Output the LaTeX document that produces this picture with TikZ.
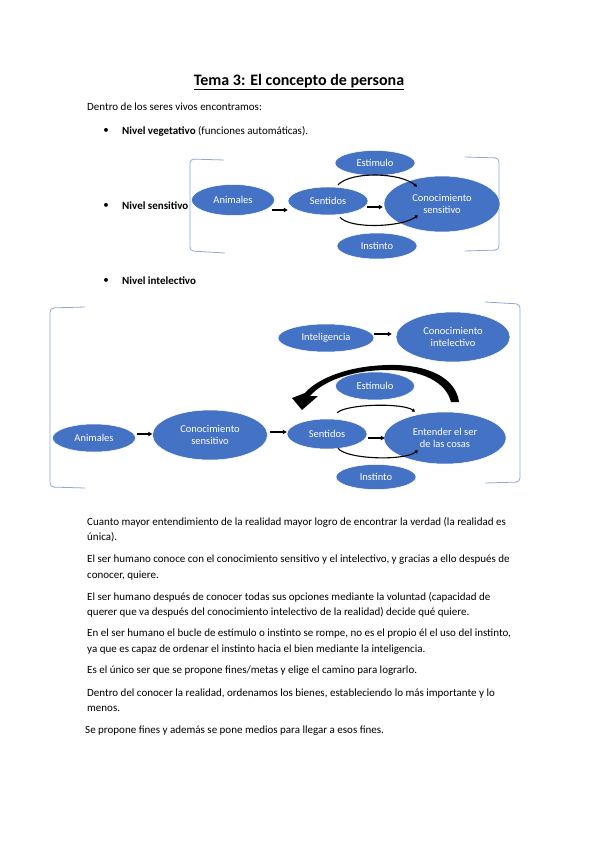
\documentclass[tikz,border=0pt]{standalone}
\usepackage{fontspec}
\setmainfont{Carlito}
\usetikzlibrary{shapes.geometric,arrows.meta}
\definecolor{ellblue}{HTML}{4472C4}
\definecolor{brk}{HTML}{8FA8D6}
\tikzset{
  ell/.style={ellipse,fill=ellblue,draw=white,line width=0.5pt,inner sep=0pt,text=white,font=\fontsize{10.5}{12.5}\selectfont,align=center},
  arr/.style={draw=black,line width=1.1pt,-{Triangle[length=4pt,width=4.5pt]}},
  lp/.style={draw=black,line width=1.1pt,-{Triangle[length=3pt,width=3.5pt]}},
  brack/.style={draw=brk,line width=0.8pt,rounded corners=4pt},
  body/.style={anchor=west,inner sep=0pt,font=\fontsize{11}{13}\selectfont},
  bul/.style={anchor=center,inner sep=0pt,font=\fontsize{11}{13}\selectfont}
}
\begin{document}
\begin{tikzpicture}[x=1pt,y=-1pt]
\useasboundingbox[fill=white] (0,0) rectangle (599,848);
% title
\node[inner sep=0pt,font=\fontsize{16}{18}\selectfont\bfseries] (title) at (299,82) {\underline{Tema 3: El concepto de persona}};
\node[body] (intro) at (87,107) {Dentro de los seres vivos encontramos:};
\node[bul] (b1) at (106,131) {•};
\node[body] (veg) at (122,131) {\textbf{Nivel vegetativo} (funciones automáticas).};
\node[bul] (b2) at (106,206) {•};
\node[body] (sens) at (122,206) {\textbf{Nivel sensitivo}};
\node[bul] (b3) at (106,281) {•};
\node[body] (intel0) at (122,281) {\textbf{Nivel intelectivo}};

% brackets diagram 1
\draw[brack] (224,160) -- (190,159) -- (190,251) -- (225,253);
\draw[brack] (465,157) -- (499,158) -- (499,250) -- (465,251);

% diagram 1
\node[ell,minimum width=83,minimum height=31] (anim1) at (233,200) {Animales};
\node[ell,minimum width=80,minimum height=28] (sent1) at (328,201) {Sentidos};
\node[ell,minimum width=80,minimum height=25] (est1) at (375,163) {Estímulo};
\node[ell,minimum width=80,minimum height=26] (inst1) at (377,246) {Instinto};
\node[ell,minimum width=116,minimum height=56] (cs1) at (442,204) {Conocimiento\\sensitivo};
\draw[arr] ([xshift=-3pt,yshift=-10pt]anim1.east) -- ([yshift=-9pt]sent1.west);
\draw[arr] ([xshift=-1pt,yshift=-6pt]sent1.east) -- ([xshift=-1pt,yshift=-3pt]cs1.west);
\draw[lp] ([xshift=10pt,yshift=2pt]sent1.north) .. controls +(14,-14) and +(-16,-14) .. ([xshift=-25pt,yshift=-11pt]cs1.north);
\draw[lp] ([xshift=12pt,yshift=-2pt]sent1.south) .. controls +(10,12) and +(-16,12) .. ([xshift=-24pt,yshift=17pt]cs1.south);

% brackets diagram 2
\draw[brack] (85,307) -- (50,308) -- (50,487) -- (85,488);
\draw[brack] (485,302) -- (520,304) -- (520,482) -- (485,483);

% diagram 2
\node[ell,minimum width=96,minimum height=28] (intel) at (326,338) {Inteligencia};
\node[ell,minimum width=114,minimum height=50] (ci) at (453,337) {Conocimiento\\intelectivo};
\node[ell,minimum width=79,minimum height=28] (est2) at (375,386) {Estímulo};
\node[ell,minimum width=83,minimum height=28] (anim2) at (94,438) {Animales};
\node[ell,minimum width=115,minimum height=50] (cs2) at (210,435) {Conocimiento\\sensitivo};
\node[ell,minimum width=80,minimum height=30] (sent2) at (327,434) {Sentidos};
\node[ell,minimum width=80,minimum height=25] (inst2) at (376,477) {Instinto};
\node[ell,minimum width=122,minimum height=52] (ent) at (445,438) {Entender el ser\\de las cosas};
\draw[arr] ([yshift=4pt]intel.east) -- ([xshift=-4pt,yshift=3pt]ci.west);
\draw[arr] ([xshift=1pt,yshift=4pt]anim2.east) -- ([yshift=1pt]cs2.west);
\draw[arr] ([xshift=2pt,yshift=3pt]cs2.east) -- ([yshift=2pt]sent2.west);
\draw[arr] ([xshift=1pt,yshift=-4pt]sent2.east) -- ([xshift=1pt]ent.west);
\draw[lp] ([xshift=10pt,yshift=6pt]sent2.north) .. controls +(10,-9) and +(-12,-9) .. ([xshift=-30pt]ent.north);
\draw[lp] ([xshift=11pt,yshift=1pt]sent2.south) .. controls +(8,11) and +(-14,11) .. ([xshift=-27pt,yshift=14pt]ent.south);
% big curved arrow
\fill[black] (459,402) .. controls (456,378) and (428,364) .. (388,365)
  .. controls (345,366) and (316,380) .. (305,393)
  -- (292,398) -- (302,410) -- (318,396) -- (310,396)
  .. controls (322,382) and (350,370) .. (388,370)
  .. controls (422,370) and (446,382) .. (451,402) -- cycle;

% body text
\node[body] (t1) at (87,522) {Cuanto mayor entendimiento de la realidad mayor logro de encontrar la verdad (la realidad es};
\node[body] (t2) at (87,537) {única).};
\node[body] (t3) at (87,560) {El ser humano conoce con el conocimiento sensitivo y el intelectivo, y gracias a ello después de};
\node[body] (t4) at (87,576) {conocer, quiere.};
\node[body] (t5) at (87,597) {El ser humano después de conocer todas sus opciones mediante la voluntad (capacidad de};
\node[body] (t6) at (87,612) {querer que va después del conocimiento intelectivo de la realidad) decide qué quiere.};
\node[body] (t7) at (87,634) {En el ser humano el bucle de estímulo o instinto se rompe, no es el propio él el uso del instinto,};
\node[body] (t8) at (87,650) {ya que es capaz de ordenar el instinto hacia el bien mediante la inteligencia.};
\node[body] (t9) at (87,671) {Es el único ser que se propone fines/metas y elige el camino para lograrlo.};
\node[body] (t10) at (87,694) {Dentro del conocer la realidad, ordenamos los bienes, estableciendo lo más importante y lo};
\node[body] (t11) at (87,709) {menos.};
\node[body] (t12) at (85,731) {Se propone fines y además se pone medios para llegar a esos fines.};
\end{tikzpicture}
\end{document}
